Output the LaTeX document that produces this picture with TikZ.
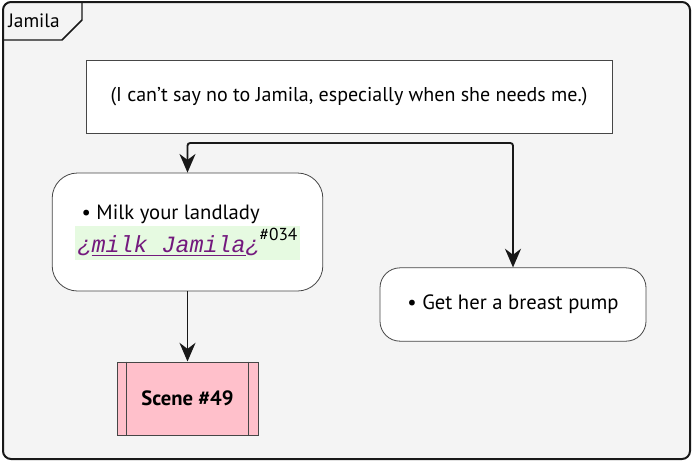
\documentclass[tikz,border=0pt]{standalone}
\usepackage{fontspec}
\setmainfont{PT Sans}
\setmonofont{Liberation Mono}
\usetikzlibrary{arrows.meta,positioning,calc}
\definecolor{paper}{RGB}{244,244,244}
\definecolor{ink}{RGB}{24,24,24}
\definecolor{rose}{RGB}{255,192,203}
\definecolor{mint}{RGB}{230,250,225}
\definecolor{plum}{RGB}{115,25,125}
\tikzset{
  >={Stealth[length=14pt,width=12pt,inset=4.5pt]},
  frame/.style={draw=ink,fill=paper,line width=1.5pt,rounded corners=6pt},
  notebox/.style={draw=ink!80,fill=white,line width=0.5pt,minimum width=394.5pt,
    minimum height=54.75pt,font=\fontsize{15}{18}\selectfont},
  act/.style={draw=ink!80,fill=white,line width=0.6pt,align=left,
    font=\fontsize{15.5}{18}\selectfont},
  scenebox/.style={draw=ink!80,fill=rose,line width=0.5pt,minimum width=106pt,
    minimum height=55pt,font=\fontsize{15.5}{18}\selectfont\bfseries},
  flow/.style={->,draw=ink,line width=1.4pt,rounded corners=2pt},
}
\newcommand{\hook}[2]{\setlength{\fboxsep}{2pt}\colorbox{mint}{\rule[-3pt]{0pt}{21pt}\textcolor{plum}{\fontsize{17.5}{20}\selectfont\ttfamily\itshape ¿$\underline{\hbox{#1}}$¿}\raisebox{9pt}{\fontsize{13}{13}\selectfont#2}}}

\begin{document}
\begin{tikzpicture}[x=0.75pt,y=-0.75pt]
  \useasboundingbox (0,0) rectangle (695,465);
  % swimlane
  \draw[frame] (3,2) rectangle (690,459);
  \draw[ink,line width=1.1pt] (3,40) -- (62,40) -- (82,20) -- (82,3);
  \node[font=\fontsize{14.5}{17}\selectfont] (lane) at (34,21) {Jamila};
  % nodes
  \node[notebox] (thought) at (349,96.5) {(I can\char"27 t say no to Jamila, especially when she needs me.)};
  \node[act,rounded corners=19pt,minimum width=203pt,minimum height=88.5pt] (milk) at (187.5,232)
    {\hspace{5pt}\textbullet\ Milk your landlady\\[1pt]\hook{milk Jamila}{\#034}};
  \node[act,rounded corners=15pt,minimum width=199.5pt,minimum height=55pt] (pump) at (513,304.5)
    {\textbullet\ Get her a breast pump};
  \node[scenebox] (scene) at (187.5,398.5) {Scene \#49};
  \draw[ink!80,line width=0.5pt] ($(scene.north west)+(10,0)$) -- ($(scene.south west)+(10,0)$)
    ($(scene.north east)+(-10,0)$) -- ($(scene.south east)+(-10,0)$);
  % connectors
  \coordinate (fork) at (350,143);
  \draw[flow] (fork) -| (milk.north);
  \draw[flow] (fork) -| (pump.north);
  \draw[flow] (milk) -- (scene);
\end{tikzpicture}
\end{document}
